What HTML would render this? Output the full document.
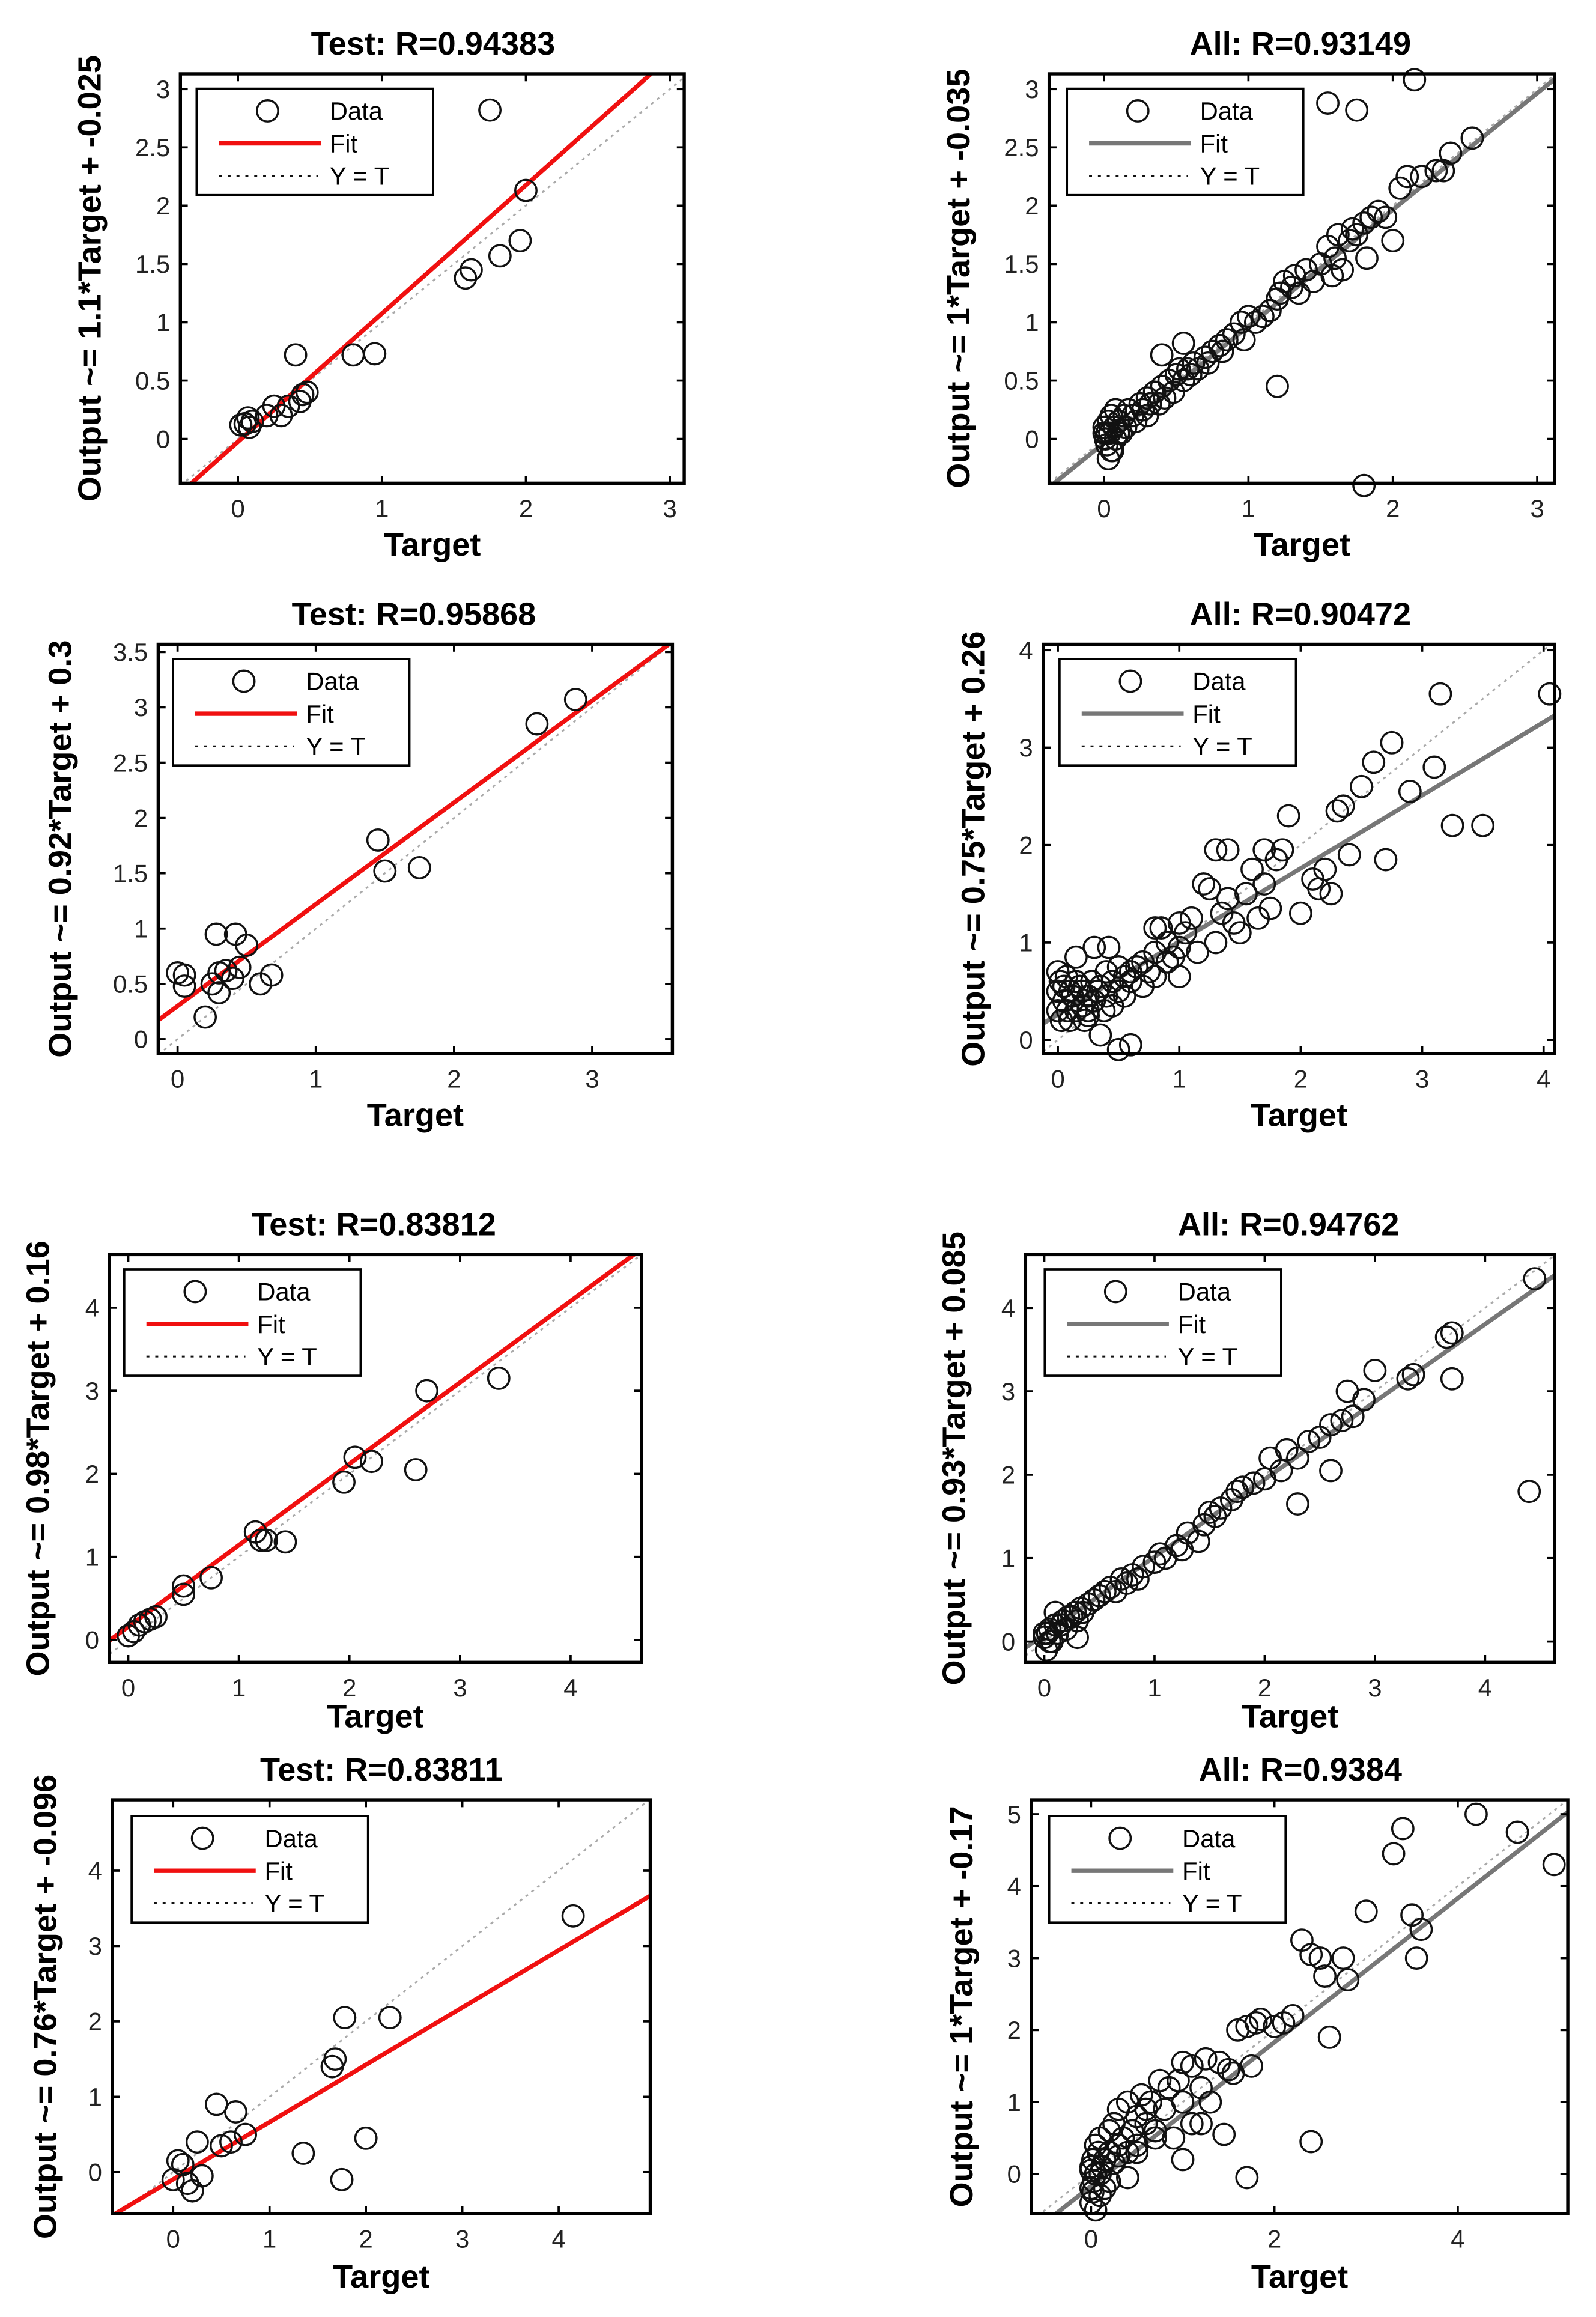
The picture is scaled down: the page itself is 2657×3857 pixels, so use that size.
<!DOCTYPE html>
<html><head><meta charset="utf-8"><style>
html,body{margin:0;padding:0;background:#fff;}
svg{display:block;}
text{font-family:"Liberation Sans",Arial,sans-serif;}
</style></head><body>
<svg id="fig" width="2657" height="3857" viewBox="0 0 1080 1568" xmlns="http://www.w3.org/2000/svg"></svg>
<script>
// ---- data (target values, output values) ----
const p1X=[0.02,0.05,0.08,0.1,0.07,0.2,0.25,0.3,0.35,0.4,0.43,0.48,0.45,0.8,0.95,1.58,1.62,1.82,1.96,2.0,1.75];
const p1Y=[0.12,0.13,0.1,0.15,0.18,0.2,0.28,0.2,0.28,0.72,0.32,0.4,0.38,0.72,0.73,1.38,1.45,1.57,1.7,2.13,2.82];
const p2X=[0,0.01,0.02,0.03,0.04,0.05,0.06,0.07,0.08,0.1,0.12,0.14,0.15,0.17,0.2,0.22,0.25,0.27,0.3,0.32,0.35,0.38,0.4,0.42,0.45,0.48,0.5,0.52,0.55,0.58,0.6,0.62,0.65,0.7,0.72,0.75,0.8,0.82,0.85,0.9,0.95,0.97,1.0,1.05,1.1,1.15,1.2,1.22,1.25,1.3,1.32,1.35,1.4,1.45,1.5,1.55,1.58,1.6,1.62,1.65,1.7,1.72,1.75,1.8,1.82,1.85,1.9,1.95,2.0,2.05,2.1,2.2,2.3,2.35,2.4,2.55,0.4,0.55,0.02,0.05,0.08,0.0,0.03,1.2,1.8,1.55,1.75,2.15,0.1,0.3,0.45];
const p2Y=[0.1,0.0,-0.05,0.15,0.05,0.2,-0.1,0.1,0.0,0.15,0.05,0.2,0.1,0.25,0.2,0.15,0.3,0.25,0.35,0.3,0.4,0.3,0.45,0.35,0.5,0.4,0.55,0.6,0.5,0.6,0.55,0.65,0.6,0.7,0.65,0.75,0.8,0.75,0.85,0.9,1.0,0.85,1.05,1.0,1.05,1.1,1.2,1.25,1.35,1.3,1.4,1.25,1.45,1.35,1.5,1.65,1.4,1.55,1.75,1.45,1.7,1.8,1.75,1.85,1.55,1.9,1.95,1.9,1.7,2.15,2.25,2.25,2.3,2.3,2.45,2.58,0.72,0.82,0.05,-0.1,0.25,0.05,-0.17,0.45,-0.4,2.88,2.82,3.08,0.05,0.2,0.5];
const p3X=[0.0,0.05,0.05,0.2,0.25,0.3,0.3,0.28,0.35,0.4,0.42,0.5,0.6,0.68,1.45,1.5,1.75,2.6,2.88,0.45];
const p3Y=[0.6,0.58,0.48,0.2,0.5,0.42,0.6,0.95,0.62,0.55,0.95,0.85,0.5,0.58,1.8,1.52,1.55,2.85,3.07,0.65];
const p4X=[0,0,0,0.02,0.03,0.05,0.05,0.07,0.08,0.1,0.1,0.12,0.15,0.15,0.18,0.2,0.2,0.22,0.25,0.25,0.28,0.3,0.3,0.33,0.35,0.38,0.4,0.4,0.42,0.45,0.45,0.5,0.5,0.55,0.55,0.6,0.6,0.65,0.7,0.7,0.75,0.8,0.8,0.85,0.9,0.9,0.95,1.0,1.0,1.05,1.1,1.15,1.2,1.25,1.3,1.35,1.4,1.4,1.45,1.5,1.55,1.6,1.65,1.7,1.75,1.8,1.85,1.9,2.0,2.1,2.15,2.2,2.25,2.3,2.4,2.5,2.6,2.7,2.75,2.9,3.1,3.15,3.25,3.5,4.05,0.35,0.5,0.6,0.8,1.0,1.3,1.7,2.35,0.15,0.25];
const p4Y=[0.7,0.5,0.3,0.6,0.2,0.55,0.4,0.65,0.3,0.5,0.2,0.45,0.6,0.3,0.55,0.35,0.5,0.2,0.45,0.3,0.6,0.95,0.4,0.5,0.55,0.3,0.7,0.45,0.95,0.6,0.35,0.75,0.5,0.65,0.45,0.7,0.6,0.75,0.55,0.8,0.7,0.9,0.65,1.15,0.8,1.0,0.85,0.95,1.2,1.1,1.25,0.9,1.6,1.55,1.95,1.3,1.45,1.95,1.2,1.1,1.5,1.75,1.25,1.95,1.35,1.85,1.95,2.3,1.3,1.65,1.55,1.75,1.5,2.35,1.9,2.6,2.85,1.85,3.05,2.55,2.8,3.55,2.2,2.2,3.55,0.05,-0.1,-0.05,1.15,0.65,1.0,1.6,2.4,0.85,0.25];
const p5X=[0,0.05,0.1,0.15,0.2,0.25,0.5,0.5,0.75,1.15,1.2,1.25,1.42,1.95,2.05,2.2,2.6,2.7,3.35];
const p5Y=[0.05,0.1,0.18,0.22,0.25,0.28,0.55,0.65,0.75,1.3,1.2,1.2,1.18,1.9,2.2,2.15,2.05,3.0,3.15];
const p6X=[0,0.02,0.03,0.05,0.07,0.1,0.12,0.15,0.17,0.2,0.22,0.25,0.28,0.3,0.33,0.35,0.4,0.45,0.5,0.55,0.6,0.65,0.7,0.75,0.8,0.85,0.9,1.0,1.05,1.1,1.2,1.25,1.3,1.4,1.45,1.5,1.55,1.6,1.7,1.75,1.8,1.9,2.0,2.05,2.15,2.2,2.3,2.4,2.5,2.6,2.7,2.75,2.8,2.9,3.0,3.3,3.35,3.65,3.7,4.45,4.4,0.05,0.1,0.3,0.0,2.3,2.6,3.7];
const p6Y=[0.05,-0.1,0.1,0.15,0.0,0.2,0.1,0.2,0.25,0.15,0.3,0.3,0.35,0.25,0.4,0.35,0.45,0.5,0.55,0.6,0.65,0.6,0.75,0.7,0.8,0.75,0.9,0.95,1.05,1.0,1.15,1.1,1.3,1.2,1.4,1.55,1.5,1.6,1.7,1.8,1.85,1.9,1.95,2.2,2.05,2.3,2.2,2.4,2.45,2.6,2.65,3.0,2.7,2.9,3.25,3.15,3.2,3.65,3.7,4.35,1.8,0.0,0.35,0.05,0.1,1.65,2.05,3.15];
const p7X=[0,0.05,0.1,0.15,0.2,0.25,0.3,0.45,0.5,0.6,0.65,0.75,1.35,1.65,1.68,1.75,1.78,2.0,2.25,4.15];
const p7Y=[-0.1,0.15,0.1,-0.15,-0.25,0.4,-0.05,0.9,0.35,0.4,0.8,0.5,0.25,1.4,1.5,-0.1,2.05,0.45,2.05,3.4];
const p8X=[0,0,0,0.02,0.03,0.05,0.05,0.08,0.1,0.1,0.12,0.15,0.15,0.2,0.2,0.25,0.25,0.3,0.3,0.35,0.4,0.4,0.45,0.5,0.5,0.55,0.6,0.6,0.65,0.7,0.75,0.8,0.85,0.9,0.95,1.0,1.0,1.1,1.1,1.2,1.25,1.3,1.4,1.5,1.55,1.6,1.7,1.75,1.8,1.85,2.0,2.1,2.2,2.3,2.4,2.5,2.55,2.6,2.75,2.8,3.0,3.3,3.4,3.5,3.55,3.6,4.2,4.65,5.05,0.05,0.1,0.2,0.3,0.4,0.5,0.7,1.0,1.2,1.45,1.7,2.4,0.0,0.02];
const p8Y=[0.1,-0.2,-0.4,0.2,-0.1,0.4,0.0,0.3,-0.3,0.5,0.1,0.2,-0.2,0.6,0.3,0.15,0.7,0.4,0.9,0.5,0.3,1.0,0.6,0.8,0.4,1.1,0.7,0.9,1.0,0.6,1.3,0.9,1.2,0.5,1.3,1.0,1.55,1.5,0.7,1.2,1.6,1.0,1.55,1.45,1.4,2.0,2.05,1.5,2.1,2.15,2.05,2.1,2.2,3.25,3.05,3.0,2.75,1.9,3.0,2.7,3.65,4.45,4.8,3.6,3.0,3.4,5.0,4.75,4.3,-0.5,0.0,-0.1,0.25,-0.05,0.3,0.5,0.2,0.7,0.55,-0.05,0.45,0.05,-0.25];

const panels=[
 {data:[p1X,p1Y],title:"Test: R=0.94383",yl:"Output ~= 1.1*Target + -0.025",m:1.1,b:-0.025,fit:"#f01010",box:[122,50,463,327],xl:[-0.4,3.1],yr:[-0.38,3.13],xt:[0,1,2,3],yt:[0,0.5,1,1.5,2,2.5,3],tx:293,ty:37,ylx:68,xly:376,leg:[133,60]},
 {data:[p2X,p2Y],title:"All: R=0.93149",yl:"Output ~= 1*Target + -0.035",m:1,b:-0.035,fit:"#777",box:[710,50,1052,327],xl:[-0.38,3.12],yr:[-0.38,3.13],xt:[0,1,2,3],yt:[0,0.5,1,1.5,2,2.5,3],tx:880,ty:37,ylx:656,xly:376,leg:[722,60]},
 {data:[p3X,p3Y],title:"Test: R=0.95868",yl:"Output ~= 0.92*Target + 0.3",m:0.92,b:0.3,fit:"#f01010",box:[107,436,455,713],xl:[-0.14,3.58],yr:[-0.13,3.57],xt:[0,1,2,3],yt:[0,0.5,1,1.5,2,2.5,3,3.5],tx:280,ty:423,ylx:48,xly:762,leg:[117,446]},
 {data:[p4X,p4Y],title:"All: R=0.90472",yl:"Output ~= 0.75*Target + 0.26",m:0.75,b:0.26,fit:"#777",box:[706,436,1052,713],xl:[-0.12,4.09],yr:[-0.14,4.06],xt:[0,1,2,3,4],yt:[0,1,2,3,4],tx:880,ty:423,ylx:666,xly:762,leg:[717,446]},
 {data:[p5X,p5Y],title:"Test: R=0.83812",yl:"Output ~= 0.98*Target + 0.16",m:0.98,b:0.16,fit:"#f01010",box:[74,849,434,1125],xl:[-0.17,4.64],yr:[-0.27,4.64],xt:[0,1,2,3,4],yt:[0,1,2,3,4],tx:253,ty:836,ylx:33,xly:1169,leg:[84,859]},
 {data:[p6X,p6Y],title:"All: R=0.94762",yl:"Output ~= 0.93*Target + 0.085",m:0.93,b:0.085,fit:"#777",box:[694,849,1052,1125],xl:[-0.17,4.63],yr:[-0.25,4.64],xt:[0,1,2,3,4],yt:[0,1,2,3,4],tx:872,ty:836,ylx:653,xly:1169,leg:[707,859]},
 {data:[p7X,p7Y],title:"Test: R=0.83811",yl:"Output ~= 0.76*Target + -0.096",m:0.76,b:-0.096,fit:"#f01010",box:[76,1218,440,1498],xl:[-0.63,4.95],yr:[-0.55,4.94],xt:[0,1,2,3,4],yt:[0,1,2,3,4],tx:258,ty:1205,ylx:38,xly:1548,leg:[89,1229]},
 {data:[p8X,p8Y],title:"All: R=0.9384",yl:"Output ~= 1*Target + -0.17",m:1,b:-0.17,fit:"#777",box:[698,1218,1061,1498],xl:[-0.65,5.2],yr:[-0.55,5.2],xt:[0,2,4],yt:[0,1,2,3,4,5],tx:880,ty:1205,ylx:658,xly:1548,leg:[710,1229]}
];

const NS="http://www.w3.org/2000/svg";
const svg=document.getElementById('fig');
function mk(tag,attrs,parent,txt){const e=document.createElementNS(NS,tag);for(const k in attrs)e.setAttribute(k,attrs[k]);if(txt!==undefined)e.textContent=txt;parent.appendChild(e);return e;}

panels.forEach((p,i)=>{
 const g=mk('g',{},svg);
 
 
 const [x0,y0,x1,y1]=p.box;
 const sx=v=>x0+(v-p.xl[0])/(p.xl[1]-p.xl[0])*(x1-x0);
 const sy=v=>y1-(v-p.yr[0])/(p.yr[1]-p.yr[0])*(y1-y0);
 const cid='clip'+i;
 const cp=mk('clipPath',{id:cid},g);mk('rect',{x:x0,y:y0,width:x1-x0,height:y1-y0},cp);
 const yt=mk('line',{x1:sx(p.xl[0]),y1:sy(p.xl[0]),x2:sx(p.xl[1]),y2:sy(p.xl[1]),stroke:'#aaa','stroke-width':1.2,'stroke-dasharray':'2,3','clip-path':'url(#'+cid+')'},g);
 
 
 const fl=mk('line',{x1:sx(p.xl[0]),y1:sy(p.m*p.xl[0]+p.b),x2:sx(p.xl[1]),y2:sy(p.m*p.xl[1]+p.b),stroke:p.fit,'stroke-width':3,'clip-path':'url(#'+cid+')'},g);
 
 
 const [xs,ys]=p.data;
 xs.forEach((xv,j)=>{
  const c=mk('circle',{cx:sx(xv),cy:sy(ys[j]),r:7.2,fill:'none',stroke:'#111','stroke-width':1.4},g);
  
  
 });
 const bx=mk('rect',{x:x0,y:y0,width:x1-x0,height:y1-y0,fill:'none',stroke:'#000','stroke-width':2.2},g);
 
 
 p.xt.forEach(t=>{
  const X=sx(t);
  mk('line',{x1:X,y1:y1,x2:X,y2:y1-5,stroke:'#000','stroke-width':1.5},g);
  mk('line',{x1:X,y1:y0,x2:X,y2:y0+5,stroke:'#000','stroke-width':1.5},g);
  const tl=mk('text',{x:X,y:y1+23,'font-size':17,'text-anchor':'middle',fill:'#222'},g,String(t));
  
  
 });
 p.yt.forEach(t=>{
  const Y=sy(t);
  mk('line',{x1:x0,y1:Y,x2:x0+5,y2:Y,stroke:'#000','stroke-width':1.5},g);
  mk('line',{x1:x1,y1:Y,x2:x1-5,y2:Y,stroke:'#000','stroke-width':1.5},g);
  const tl=mk('text',{x:x0-7,y:Y+6,'font-size':17,'text-anchor':'end',fill:'#222'},g,String(t));
  
  
 });
 const ti=mk('text',{x:p.tx,y:p.ty,'font-size':22,'font-weight':'bold','text-anchor':'middle'},g,p.title);
 
 
 const xl=mk('text',{x:(x0+x1)/2,y:p.xly,'font-size':22,'font-weight':'bold','text-anchor':'middle'},g,'Target');
 
 
 const ylt=mk('text',{x:p.ylx,y:(y0+y1)/2,'font-size':22,'font-weight':'bold','text-anchor':'middle',transform:'rotate(-90 '+p.ylx+' '+((y0+y1)/2)+')'},g,p.yl);
 
 
 const [lx,ly]=p.leg;
 const lg=mk('g',{},g);
 
 
 mk('rect',{x:lx,y:ly,width:160,height:72,fill:'#fff',stroke:'#000','stroke-width':1.5},lg);
 mk('circle',{cx:lx+48,cy:ly+15,r:7.2,fill:'none',stroke:'#111','stroke-width':1.4},lg);
 mk('text',{x:lx+90,y:ly+21,'font-size':17},lg,'Data');
 mk('line',{x1:lx+15,y1:ly+37,x2:lx+84,y2:ly+37,stroke:p.fit,'stroke-width':3},lg);
 mk('text',{x:lx+90,y:ly+43,'font-size':17},lg,'Fit');
 mk('line',{x1:lx+15,y1:ly+59,x2:lx+82,y2:ly+59,stroke:'#111','stroke-width':1.2,'stroke-dasharray':'2,4'},lg);
 mk('text',{x:lx+90,y:ly+65,'font-size':17},lg,'Y = T');
});
</script>
</body></html>
